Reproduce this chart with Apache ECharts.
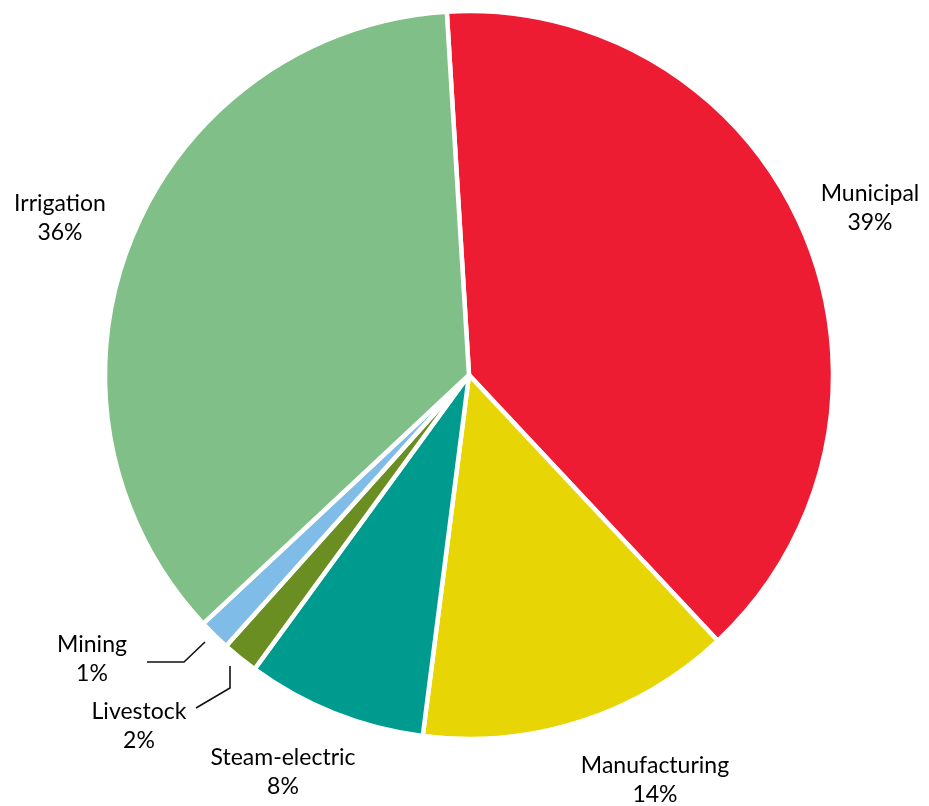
<!DOCTYPE html>
<html>
<head>
<meta charset="utf-8">
<script src="https://cdn.jsdelivr.net/npm/echarts@6/dist/echarts.min.js"></script>
<style>
  html, body { margin: 0; padding: 0; background: #fff; }
  #main { width: 929px; height: 806px; }
</style>
</head>
<body>
<div id="main"></div>
<script>
// 各用途用水占比
const categories = ['Municipal', 'Manufacturing', 'Steam-electric', 'Livestock', 'Mining', 'Irrigation'];
const shares = [39, 14, 8, 1.6, 1.4, 36];
const colors = ['#ED1C33', '#E8D506', '#009B8F', '#6B8E23', '#7FBCE8', '#80BF87'];

// 标签位置（像素）
const labelPos = [[870, 208], [655, 780], [283, 772], [139, 726], [92, 659], [60, 218]];

const myChart = echarts.init(document.getElementById('main'));
myChart.setOption({
    animation: false,
    series: [
        {
            type: 'pie',
            center: [469, 375],
            radius: 364,
            startAngle: 93.5,
            clockwise: true,
            avoidLabelOverlap: false,
            data: categories.map((name, i) => ({
                name: name,
                value: shares[i],
                itemStyle: { color: colors[i] }
            })),
            itemStyle: {
                borderColor: '#fff',
                borderWidth: 4.5
            },
            label: {
                show: true,
                formatter: function (p) {
                    return p.name + '\n' + Math.round(p.value) + '%';
                },
                fontFamily: 'Lato',
                fontSize: 23,
                lineHeight: 29,
                color: '#000',
                align: 'center'
            },
            labelLine: { show: false },
            labelLayout: function (params) {
                const pos = labelPos[params.dataIndex];
                return {
                    x: pos[0],
                    y: pos[1],
                    align: 'center',
                    verticalAlign: 'middle'
                };
            }
        }
    ],
    // 小扇区的引线
    graphic: [
        {
            type: 'polyline',
            shape: { points: [[147, 662], [184, 662], [205, 642]] },
            style: { stroke: '#111', lineWidth: 1.6, fill: null }
        },
        {
            type: 'polyline',
            shape: { points: [[230, 666], [230, 688], [196, 708]] },
            style: { stroke: '#111', lineWidth: 1.6, fill: null }
        }
    ]
});
</script>
</body>
</html>
